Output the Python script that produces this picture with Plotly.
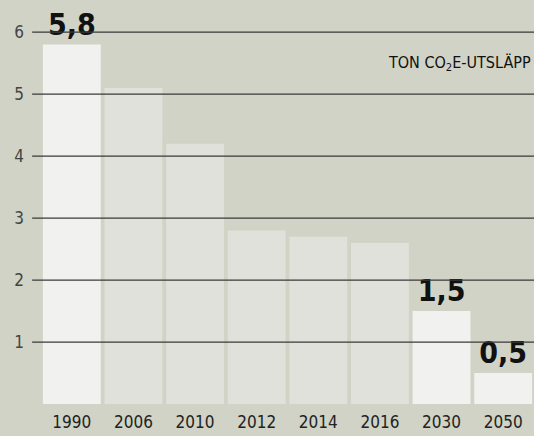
import plotly.graph_objects as go

years = ["1990", "2006", "2010", "2012", "2014", "2016", "2030", "2050"]
values = [5.8, 5.1, 4.2, 2.8, 2.7, 2.6, 1.5, 0.5]
labels = ["5,8", None, None, None, None, None, "1,5", "0,5"]
highlight = [True, False, False, False, False, False, True, True]
y_ticks = [1, 2, 3, 4, 5, 6]

FONT = "DejaVu Sans Condensed, Liberation Sans Narrow, sans-serif"
BG = "#d0d3c5"
colors = ["#f1f1ef" if h else "#dfe1da" for h in highlight]

fig = go.Figure(go.Bar(
    x=years, y=values, text=labels,
    textposition="outside",
    textfont=dict(family=FONT, size=30, color="#111", weight="bold"),
    marker=dict(color=colors, line=dict(width=0)),
    cliponaxis=False, hoverinfo="skip",
))

shapes = []
for v in y_ticks:
    shapes.append(dict(type="line", xref="paper", yref="y", x0=-0.018, x1=1,
                       y0=v, y1=v, line=dict(color="#3a3a3a", width=1.3), layer="above"))

fig.update_layout(
    width=534, height=436,
    margin=dict(l=41, r=0, t=0, b=32),
    paper_bgcolor=BG, plot_bgcolor=BG,
    bargap=0.06, showlegend=False,
    shapes=shapes,
    xaxis=dict(showgrid=False, showline=False, zeroline=False, ticks="",
               ticklabelstandoff=6,
               tickfont=dict(family=FONT, size=17, color="#222")),
    yaxis=dict(range=[0, 6.52], tickvals=y_ticks, showgrid=False, zeroline=False,
               showline=False, ticks="", ticklabelstandoff=16,
               tickfont=dict(family=FONT, size=17, color="#444")),
    annotations=[dict(xref="paper", yref="y", x=0.997, y=5.5, xanchor="right", yanchor="middle",
                      text="TON CO<sub>2</sub>E-UTSLÄPP", showarrow=False,
                      font=dict(family=FONT, size=16, color="#111"))],
)

fig.write_html("out.html", config={"displayModeBar": False},
               post_script="document.body.style.margin='0';document.body.style.overflow='hidden';")
